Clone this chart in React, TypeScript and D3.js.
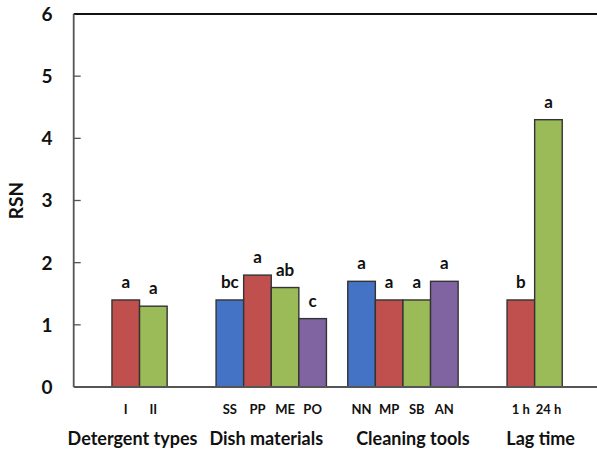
import * as d3 from "d3";

// groups along the x axis
const groups = ["Detergent types", "Dish materials", "Cleaning tools", "Lag time"];
const seriesColors = ["#4472C4", "#C0504D", "#9BBB59", "#8064A2"];

// bar labels, values and letters for each group (4 slots per group)
const detergentLabels = ["", "I", "II", ""];
const detergentValues = [null, 1.4, 1.3, null];
const detergentLetters = ["", "a", "a", ""];

const dishLabels = ["SS", "PP", "ME", "PO"];
const dishValues = [1.4, 1.8, 1.6, 1.1];
const dishLetters = ["bc", "a", "ab", "c"];

const toolLabels = ["NN", "MP", "SB", "AN"];
const toolValues = [1.7, 1.4, 1.4, 1.7];
const toolLetters = ["a", "a", "a", "a"];

const lagLabels = ["", "1 h", "24 h", ""];
const lagValues = [null, 1.4, 4.3, null];
const lagLetters = ["", "b", "a", ""];

const yTicks = [0, 1, 2, 3, 4, 5, 6];

const W = 597;
const H = 450;
const font = "Lato, 'Open Sans', sans-serif";

export default function App() {
  const table = [
    { group: groups[0], labels: detergentLabels, values: detergentValues, letters: detergentLetters, shift: -7 },
    { group: groups[1], labels: dishLabels, values: dishValues, letters: dishLetters, shift: -5 },
    { group: groups[2], labels: toolLabels, values: toolValues, letters: toolLetters, shift: 10 },
    { group: groups[3], labels: lagLabels, values: lagValues, letters: lagLetters, shift: 6 },
  ];

  const left = 73.7;
  const plotRight = left + 4 * 131.7;
  const x = d3.scaleBand<string>().domain(groups).range([left, plotRight])
    .paddingInner(0.162).paddingOuter(0.081);
  const xInner = d3.scaleBand<number>().domain([0, 1, 2, 3]).range([0, x.bandwidth()]);
  const y = d3.scaleLinear().domain([0, 6]).range([387, 14]);

  return (
    <svg width={W} height={H} style={{ position: "absolute", left: 0, top: 0, background: "#fff" }}>
      {/* top border */}
      <line x1={left} x2={W} y1={y(6)} y2={y(6)} stroke="#111" strokeWidth={2} />

      {table.map((g) => (
        <g key={g.group}>
          {g.values.map((v, i) => {
            if (v == null) return null;
            const bx = (x(g.group) ?? 0) + (xInner(i) ?? 0);
            return (
              <g key={i}>
                <rect x={bx} y={y(v)} width={xInner.bandwidth()} height={y(0) - y(v)}
                  fill={seriesColors[i]} stroke="#333" strokeWidth={1.4} />
                <text x={bx + xInner.bandwidth() / 2} y={y(v) - 12} textAnchor="middle"
                  fontFamily={font} fontWeight="bold" fontSize={17} fill="#111">{g.letters[i]}</text>
                <text x={bx + xInner.bandwidth() / 2} y={414} textAnchor="middle"
                  fontFamily={font} fontWeight="bold" fontSize={13} fill="#111">{g.labels[i]}</text>
              </g>
            );
          })}
          <text x={(x(g.group) ?? 0) + x.bandwidth() / 2 + g.shift} y={445} textAnchor="middle"
            fontFamily={font} fontWeight="bold" fontSize={18} fill="#111">{g.group}</text>
        </g>
      ))}

      {/* axes */}
      <line x1={left} x2={W} y1={y(0)} y2={y(0)} stroke="#555" strokeWidth={1.8} />
      <line x1={left} x2={left} y1={y(6)} y2={y(0)} stroke="#555" strokeWidth={1.8} />
      {yTicks.map((t) => (
        <g key={t}>
          {t > 0 && t < 6 && <line x1={left} x2={left + 7} y1={y(t)} y2={y(t)} stroke="#555" strokeWidth={1.3} />}
          <text x={47} y={y(t)} dy="0.36em" textAnchor="middle" fontFamily={font}
            fontWeight="bold" fontSize={19} fill="#111">{t}</text>
        </g>
      ))}
      <text transform={`translate(23, ${y(3)}) rotate(-90)`} textAnchor="middle"
        fontFamily={font} fontWeight="bold" fontSize={19} fill="#111">RSN</text>
    </svg>
  );
}
